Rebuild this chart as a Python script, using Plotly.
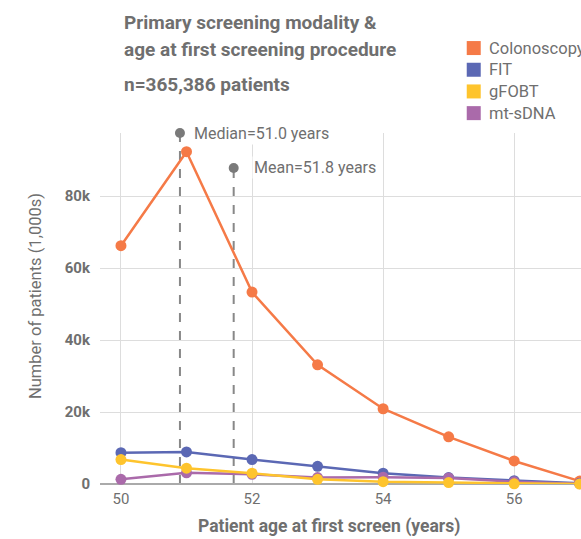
import plotly.graph_objects as go

ages = [50, 51, 52, 53, 54, 55, 56, 57]
colonoscopy = [66200, 92300, 53300, 33100, 20900, 13100, 6400, 800]
fit = [8700, 8900, 6800, 4900, 3000, 1800, 900, 200]
gfobt = [6800, 4400, 3000, 1300, 650, 400, 50, 0]
mt_sdna = [1300, 3100, 2700, 1800, 1900, 1700, 600, 100]

series = [
    ("Colonoscopy", colonoscopy, "#F57A47"),
    ("FIT", fit, "#5B68B4"),
    ("mt-sDNA", mt_sdna, "#AA6AAA"),
    ("gFOBT", gfobt, "#FEC42D"),
]
legend_order = ["Colonoscopy", "FIT", "gFOBT", "mt-sDNA"]

median_age, mean_age = 51.0, 51.8
median_pos, mean_pos = 50.9, 51.72  # where the marker lines sit on the axis
median_top, mean_top = 97500, 87800

GREY = "#6f6f6f"
FONT = "Roboto"

fig = go.Figure()
for name, vals, color in series:
    fig.add_trace(go.Scatter(
        x=ages, y=vals, mode="lines+markers", name=name,
        line=dict(color=color, width=2.5),
        marker=dict(color=color, size=11),
        cliponaxis=False, showlegend=False,
    ))

# legend drawn by hand so the row spacing matches
colors = {n: c for n, _, c in series}
for i, name in enumerate(legend_order):
    ypos = 1.242 - i * 0.0618
    fig.add_shape(type="rect", xref="paper", yref="paper",
                  xsizemode="pixel", ysizemode="pixel",
                  xanchor=0.777, yanchor=ypos, x0=-7, x1=7, y0=-7, y1=7,
                  fillcolor=colors[name], line_width=0)
    fig.add_annotation(xref="paper", yref="paper", x=0.805, y=ypos,
                       xanchor="left", yanchor="middle", showarrow=False,
                       text=name, font=dict(size=16.5, color=GREY, family=FONT))

# median / mean reference lines
for pos, top in [(median_pos, median_top), (mean_pos, mean_top)]:
    fig.add_shape(type="line", x0=pos, x1=pos, y0=0, y1=top,
                  line=dict(color="#888888", width=2, dash="dash"), layer="below")
fig.add_trace(go.Scatter(
    x=[median_pos, mean_pos], y=[median_top, mean_top], mode="markers",
    marker=dict(color="#7a7a7a", size=10), cliponaxis=False, showlegend=False,
))
fig.add_annotation(x=median_pos, y=median_top, xshift=12, xanchor="left",
                   text=f"Median={median_age:.1f} years", showarrow=False,
                   bgcolor="white", font=dict(size=16, color=GREY, family=FONT))
fig.add_annotation(x=mean_pos, y=mean_top, xshift=18, xanchor="left",
                   text=f"Mean={mean_age:.1f} years", showarrow=False,
                   bgcolor="white", font=dict(size=16, color=GREY, family=FONT))

# titles
for txt, ypos in [("Primary screening modality &", 1.316),
                  ("age at first screening procedure", 1.239),
                  ("n=365,386 patients", 1.137)]:
    fig.add_annotation(xref="paper", yref="paper", x=0.0457, y=ypos,
                       xanchor="left", yanchor="middle", showarrow=False,
                       text=f"<b>{txt}</b>",
                       font=dict(size=19, color=GREY, family=FONT))
fig.add_annotation(xref="paper", yref="paper", x=-0.135, y=0.5356, textangle=-90,
                   xanchor="center", yanchor="middle",
                   showarrow=False, text="Number of patients (1,000s)",
                   font=dict(size=16.5, color=GREY, family=FONT))
fig.add_annotation(xref="paper", yref="paper", x=0.476, y=-0.1225,
                   xanchor="center", yanchor="middle",
                   showarrow=False, text="<b>Patient age at first screen (years)</b>",
                   font=dict(size=17.5, color=GREY, family=FONT))

fig.update_layout(
    width=581, height=539,
    margin=dict(l=100, r=0, t=133, b=55, autoexpand=False),
    plot_bgcolor="white", paper_bgcolor="white",
    font=dict(family=FONT, color=GREY),
    showlegend=False,
    xaxis=dict(range=[49.68, 57.02], tickvals=[50, 52, 54, 56],
               showgrid=True, gridcolor="#dddddd", gridwidth=1,
               zeroline=False, showline=False,
               tickfont=dict(size=15, color=GREY, family=FONT), ticklabelstandoff=4,
               tickprefix="<b>", ticksuffix="</b>"),
    yaxis=dict(range=[0, 97500], tickvals=[0, 20000, 40000, 60000, 80000],
               ticktext=["<b>0</b>", "<b>20k</b>", "<b>40k</b>", "<b>60k</b>", "<b>80k</b>"],
               showgrid=True, gridcolor="#dddddd", gridwidth=1,
               zeroline=True, zerolinecolor="#aaaaaa", zerolinewidth=2,
               tickfont=dict(size=15, color=GREY, family=FONT), ticklabelstandoff=9),
)

fig.write_html("out.html", config={"displayModeBar": False},
               post_script="document.body.style.margin='0';")
